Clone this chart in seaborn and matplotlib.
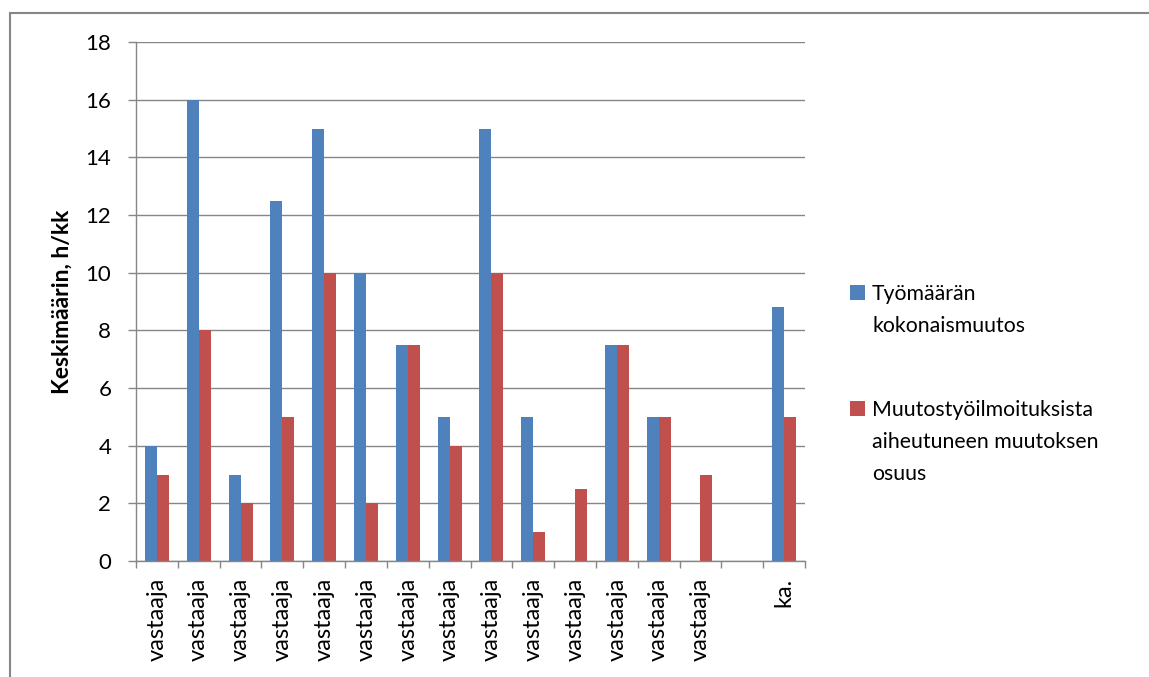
import matplotlib
matplotlib.use("Agg")
import matplotlib.pyplot as plt
import seaborn as sns
import pandas as pd
import numpy as np
from matplotlib.patches import Rectangle

categories = ["vastaaja"] * 14 + ["", "ka."]
series_names = ["Työmäärän kokonaismuutos",
                "Muutostyöilmoituksista aiheutuneen muutoksen osuus"]
legend_lines = [["Työmäärän", "kokonaismuutos"],
                ["Muutostyöilmoituksista", "aiheutuneen muutoksen", "osuus"]]
blue_values = [4, 16, 3, 12.5, 15, 10, 7.5, 5, 15, 5, np.nan, 7.5, 5, np.nan, np.nan, 8.8]
red_values = [3, 8, 2, 5, 10, 2, 7.5, 4, 10, 1, 2.5, 7.5, 5, 3, np.nan, 5]
y_ticks = [0, 2, 4, 6, 8, 10, 12, 14, 16, 18]
colors = ["#4F81BD", "#C0504D"]

sns.set_theme(style="white")
plt.rcParams["font.family"] = ["Lato", "DejaVu Sans"]

keys = [f"c{i}" for i in range(len(categories))]
df = pd.DataFrame({
    "key": keys * 2,
    "value": blue_values + red_values,
    "series": [series_names[0]] * len(keys) + [series_names[1]] * len(keys),
}).dropna()

W, H = 1149, 677
fig = plt.figure(figsize=(W / 100, H / 100), dpi=100)
x0, x1, y0, y1 = 136, 805, 42, 561
ax = fig.add_axes([x0 / W, 1 - y1 / H, (x1 - x0) / W, (y1 - y0) / H])

grid_c = "#868686"
sns.barplot(data=df, x="key", y="value", hue="series", order=keys,
            hue_order=series_names, palette=colors, saturation=1,
            width=0.574, errorbar=None, ax=ax, legend=False, linewidth=0)

ax.set_ylim(0, 18)
ax.set_xlim(-0.5, len(keys) - 0.5)
ax.set_yticks(y_ticks)
ax.set_yticklabels([str(v) for v in y_ticks], fontsize=16, color="black")
ax.set_xticks(range(len(keys)))
ax.set_xticklabels(categories, rotation=90, fontsize=17, color="black")
ax.set_xticks(np.arange(-0.5, len(keys), 1.0), minor=True)
ax.tick_params(axis="x", which="major", length=0, pad=12)
ax.tick_params(axis="x", which="minor", length=5, width=1, color=grid_c, direction="out", bottom=True)
ax.tick_params(axis="y", which="major", length=5.8, width=1, color=grid_c, direction="out", left=True, pad=12)

ax.yaxis.grid(True, color=grid_c, linewidth=1)
ax.set_axisbelow(True)
for s in ["top", "right"]:
    ax.spines[s].set_visible(False)
for s in ["left", "bottom"]:
    ax.spines[s].set_color(grid_c)
    ax.spines[s].set_linewidth(1)

ax.set_xlabel("")
ax.set_ylabel("Keskimäärin, h/kk", fontsize=16.5, fontweight="bold", color="black")
ax.yaxis.set_label_coords((73 - x0) / (x1 - x0), 0.5)

# legend (manual, to align marker with first line like the original)
entry_baselines = [[300, 332], [416, 448, 480]]
for color, lines, bls in zip(colors, legend_lines, entry_baselines):
    fig.patches.append(Rectangle((850 / W, 1 - bls[0] / H), 15 / W, 15 / H,
                                 transform=fig.transFigure, facecolor=color,
                                 edgecolor="none"))
    for line, bl in zip(lines, bls):
        fig.text(872 / W, 1 - bl / H, line, fontsize=15.3, va="baseline",
                 ha="left", color="black")

# outer chart frame
fig.patches.append(Rectangle((10 / W, -0.05), 1.1, 1 - 13 / H + 0.05,
                             transform=fig.transFigure, facecolor="none",
                             edgecolor=grid_c, linewidth=1.5))

fig.savefig("out.png", dpi=100)
